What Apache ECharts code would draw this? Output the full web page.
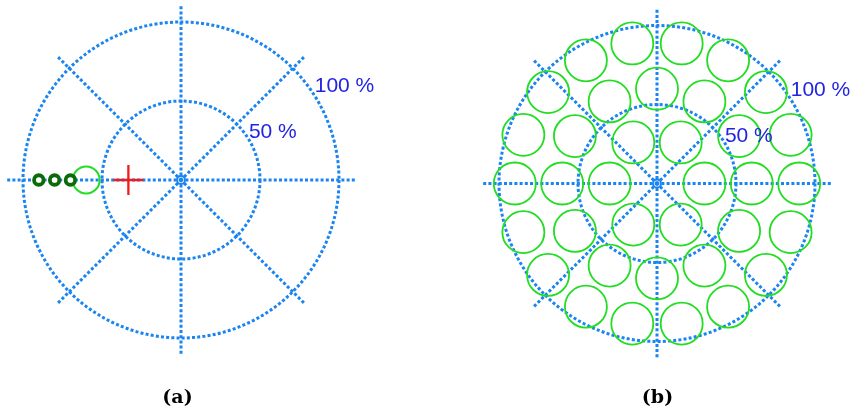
<!DOCTYPE html>
<html>
<head>
<meta charset="utf-8">
<script src="https://cdn.jsdelivr.net/npm/echarts@6/dist/echarts.min.js"></script>
<style>html,body{margin:0;padding:0;background:#fff}#c{width:855px;height:416px}</style>
</head>
<body>
<div id="c"></div>
<script>
// ---- data ----
const ringTicks = [0.5, 1.0];
const ringLabels = ['50 %', '100 %'];
const panelCaptions = ['(a)', '(b)'];
// panel (a): [radius, angle]
const aBigCircle = [[0.6, 180]];
const aSmallRings = [[0.7, 180], [0.8, 180], [0.9, 180]];
const aCross = [[0.333, 180]];
// panel (b): [radius, angle]
const bRing1 = [[0.3, 0], [0.3, 60], [0.3, 120], [0.3, 180], [0.3, 240], [0.3, 300]];
const bRing2 = [[0.6, 0], [0.6, 30], [0.6, 60], [0.6, 90], [0.6, 120], [0.6, 150],
                [0.6, 180], [0.6, 210], [0.6, 240], [0.6, 270], [0.6, 300], [0.6, 330]];
const bRing3 = [[0.9, 0], [0.9, 20], [0.9, 40], [0.9, 60], [0.9, 80], [0.9, 100],
                [0.9, 120], [0.9, 140], [0.9, 160], [0.9, 180], [0.9, 200], [0.9, 220],
                [0.9, 240], [0.9, 260], [0.9, 280], [0.9, 300], [0.9, 320], [0.9, 340]];
const origin = [[0, 0]];

// ---- styles ----
const BLUE = '#1a84f0';
const dotted = { color: BLUE, width: 3, type: [3, 2.2], cap: 'butt' };
const R_PX = 158 * 1.1;
const centers = [[181, 180], [657, 183.5]];
const labelOffsets = [[36, 8.4], [51.8, 18]];

const polar = centers.map(c => ({ center: c, radius: R_PX }));
const angleAxis = centers.map((c, i) => ({
  polarIndex: i, type: 'value', min: 0, max: 360, interval: 45,
  startAngle: 0, clockwise: false, z: 0,
  axisLine: { show: false }, axisTick: { show: false }, axisLabel: { show: false },
  splitLine: { show: true, lineStyle: dotted }
}));
const radiusAxis = centers.map((c, i) => ({
  polarIndex: i, type: 'value', min: 0, max: 1.1, interval: 0.5, z: 0,
  axisLine: { show: false }, axisTick: { show: false }, axisLabel: { show: false },
  splitLine: { show: true, lineStyle: Object.assign({}, dotted, {
    color: ['rgba(0,0,0,0)', BLUE, BLUE, 'rgba(0,0,0,0)'] }) }
}));

function circles(data, pi, size, color, bw, fill) {
  return {
    type: 'scatter', coordinateSystem: 'polar', polarIndex: pi, data: data,
    symbol: 'circle', symbolSize: size, silent: true, z: 3,
    itemStyle: { opacity: 1, color: fill || 'rgba(0,0,0,0)', borderColor: color, borderWidth: bw }
  };
}

const series = [];
[0, 1].forEach(pi => {
  series.push(circles(origin, pi, 8, BLUE, 1.8));
  series.push({
    type: 'scatter', coordinateSystem: 'polar', polarIndex: pi, silent: true, z: 4,
    symbolSize: 0, itemStyle: { opacity: 1 },
    data: ringTicks.map((t, i) => ({
      value: [t, 45],
      label: { offset: labelOffsets[i] }
    })),
    label: {
      show: true, position: 'inside', align: 'center', verticalAlign: 'middle',
      formatter: p => ringLabels[p.dataIndex],
      fontFamily: 'Liberation Sans, Arial, sans-serif', fontSize: 21, color: '#2323e3'
    }
  });
});
series.push(circles(aBigCircle, 0, 27, '#22dd22', 2));
series.push(circles(aSmallRings, 0, 9.5, '#0b6b0b', 3.8, '#ffffff'));
series.push({
  type: 'scatter', coordinateSystem: 'polar', polarIndex: 0, data: aCross, silent: true, z: 10,
  symbol: 'path://M0,15L30,15M15,0L15,30', symbolSize: 30,
  itemStyle: { opacity: 1, color: 'none', borderColor: '#f01c1c', borderWidth: 2.3 }
});
[bRing1, bRing2, bRing3].forEach(d => series.push(circles(d, 1, 42, '#22dd22', 1.8)));

const chart = echarts.init(document.getElementById('c'), null, { renderer: 'canvas' });
chart.setOption({
  animation: false,
  polar: polar,
  angleAxis: angleAxis,
  radiusAxis: radiusAxis,
  series: series,
  graphic: panelCaptions.map((t, i) => ({
    type: 'text', x: [177.5, 657.5][i], y: 398,
    style: { text: t, fill: '#000', font: 'bold 19px "DejaVu Serif", serif',
             textAlign: 'center', textVerticalAlign: 'middle' }
  }))
});
</script>
</body>
</html>
